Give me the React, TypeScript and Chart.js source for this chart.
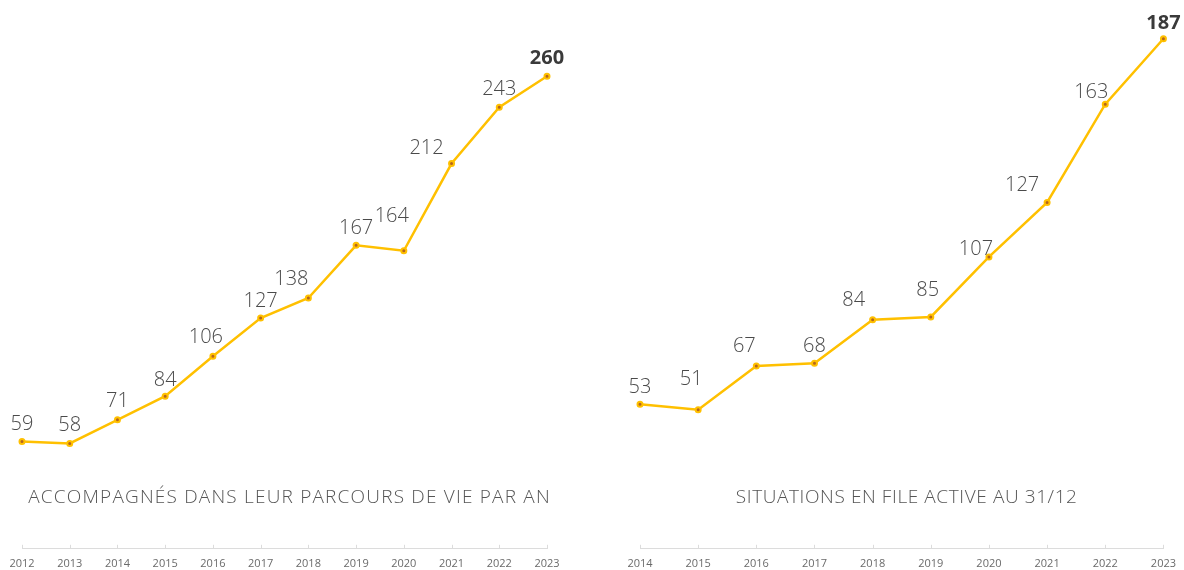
import React, { useEffect, useRef } from "react";
import { Chart, registerables } from "chart.js";

Chart.register(...registerables);

// ---- data ----
const LEFT_YEARS = ["2012", "2013", "2014", "2015", "2016", "2017", "2018", "2019", "2020", "2021", "2022", "2023"];
const LEFT_VALUES = [59, 58, 71, 84, 106, 127, 138, 167, 164, 212, 243, 260];
const LEFT_TITLE = "ACCOMPAGNÉS DANS LEUR PARCOURS DE VIE PAR AN";

const RIGHT_YEARS = ["2014", "2015", "2016", "2017", "2018", "2019", "2020", "2021", "2022", "2023"];
const RIGHT_VALUES = [53, 51, 67, 68, 84, 85, 107, 127, 163, 187];
const RIGHT_TITLE = "SITUATIONS EN FILE ACTIVE AU 31/12";

// ---- label placement nudges (layout only) ----
const LEFT_LABEL_DX = [0, 0, 0, 0, -7, 0, -17, 0, -12, -25, 0, 0];
const LEFT_LABEL_DY = [12, 12, 13, 10, 13, 11, 13, 11, 29, 10, 12, 12];
const RIGHT_LABEL_DX = [0, -7, -12, 0, -19, -3, -13, -25, -14, 0];
const RIGHT_LABEL_DY = [11, 25, 14, 11, 14, 21, 2, 11, 6, 10];

const FONT = '"Open Sans", "DejaVu Sans", sans-serif';
const YELLOW = "#FFC000";

type Cfg = {
  labels: string[];
  values: number[];
  title: string;
  titleSpacing: number;
  dx: number[];
  dy: number[];
  yMax: number;
  padLeft: number;
  padRight: number;
};

const decoPlugin = {
  id: "deco",
  afterDatasetsDraw(chart: any) {
    const o = chart.options.plugins.deco;
    const ctx = chart.ctx;
    const meta = chart.getDatasetMeta(0);
    const values = chart.data.datasets[0].data;
    ctx.save();
    ctx.textAlign = "center";
    ctx.textBaseline = "alphabetic";
    meta.data.forEach((pt: any, i: number) => {
      const last = i === values.length - 1;
      ctx.font = (last ? "700 " : "300 ") + "20px " + FONT;
      ctx.fillStyle = last ? "#3a3a3a" : "#4a4a4a";
      ctx.fillText(String(values[i]), pt.x + (o.dx[i] || 0), pt.y - (o.dy[i] || 12));
    });
    ctx.restore();
  },
  afterDraw(chart: any) {
    const o = chart.options.plugins.deco;
    const ctx = chart.ctx;
    const x = chart.scales.x;
    const area = chart.chartArea;
    ctx.save();
    // tick marks above the axis line
    ctx.strokeStyle = "#dcdcdc";
    ctx.lineWidth = 1;
    for (let i = 0; i < x.ticks.length; i++) {
      const px = Math.round(x.getPixelForTick(i)) + 0.5;
      ctx.beginPath();
      ctx.moveTo(px, area.bottom - 4);
      ctx.lineTo(px, area.bottom);
      ctx.stroke();
    }
    // title
    ctx.font = "300 19px " + FONT;
    (ctx as any).letterSpacing = o.titleSpacing + "px";
    ctx.fillStyle = "#555555";
    ctx.textAlign = "center";
    ctx.textBaseline = "alphabetic";
    ctx.fillText(o.title, (area.left + area.right) / 2 + 5, 503);
    ctx.restore();
  },
};

function LineChart({ cfg, left, width }: { cfg: Cfg; left: number; width: number }) {
  const ref = useRef<HTMLCanvasElement | null>(null);
  useEffect(() => {
    if (!ref.current) return;
    const chart = new Chart(ref.current, {
      type: "line",
      data: {
        labels: cfg.labels,
        datasets: [
          {
            data: cfg.values,
            borderColor: YELLOW,
            borderWidth: 2.5,
            pointRadius: 2.5,
            pointBorderWidth: 2,
            pointBorderColor: YELLOW,
            pointBackgroundColor: "#B5651D",
            tension: 0,
            clip: false,
          } as any,
        ],
      },
      options: {
        animation: false,
        responsive: false,
        maintainAspectRatio: false,
        layout: {
          autoPadding: false,
          padding: { left: cfg.padLeft, right: cfg.padRight, top: 0, bottom: 2 },
        },
        plugins: {
          legend: { display: false },
          tooltip: { enabled: false },
          deco: { title: cfg.title, titleSpacing: cfg.titleSpacing, dx: cfg.dx, dy: cfg.dy },
        } as any,
        scales: {
          x: {
            grid: { display: false, drawTicks: false },
            border: { display: true, color: "#dcdcdc", width: 1 },
            ticks: {
              padding: 8,
              color: "#6a6a6a",
              font: { family: FONT, size: 11 },
              maxRotation: 0,
              autoSkip: false,
            },
          },
          y: { display: false, min: 0, max: cfg.yMax },
        },
      },
      plugins: [decoPlugin],
    });
    return () => chart.destroy();
  }, []);
  return (
    <canvas
      ref={ref}
      width={width}
      height={580}
      style={{ position: "absolute", left, top: 0, width, height: 580 }}
    />
  );
}

export default function App() {
  const leftCfg: Cfg = {
    labels: LEFT_YEARS,
    values: LEFT_VALUES,
    title: LEFT_TITLE,
    titleSpacing: 1.2,
    dx: LEFT_LABEL_DX,
    dy: LEFT_LABEL_DY,
    yMax: 302,
    padLeft: 22,
    padRight: 45,
  };
  const rightCfg: Cfg = {
    labels: RIGHT_YEARS,
    values: RIGHT_VALUES,
    title: RIGHT_TITLE,
    titleSpacing: 0.6,
    dx: RIGHT_LABEL_DX,
    dy: RIGHT_LABEL_DY,
    yMax: 201.2,
    padLeft: 48,
    padRight: 20,
  };
  return (
    <div
      style={{
        position: "fixed",
        left: 0,
        top: 0,
        width: 1184,
        height: 570,
        overflow: "hidden",
        background: "#fff",
      }}
    >
      <LineChart cfg={leftCfg} left={0} width={592} />
      <LineChart cfg={rightCfg} left={592} width={592} />
    </div>
  );
}
